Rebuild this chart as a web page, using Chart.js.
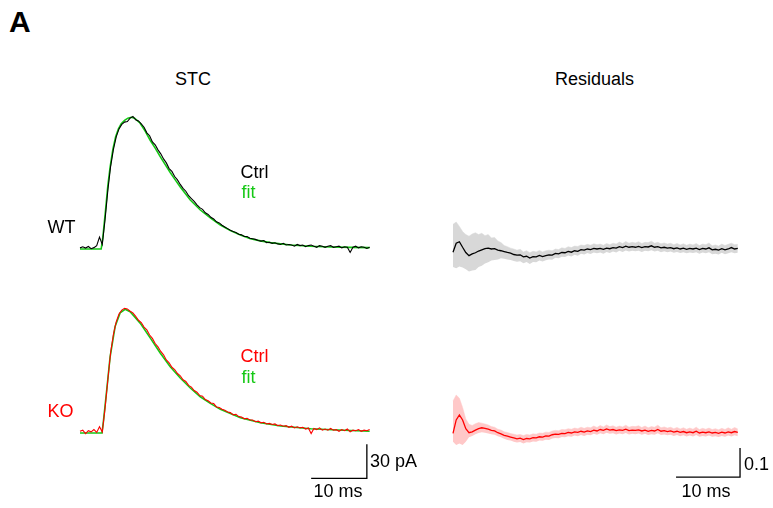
<!DOCTYPE html>
<html>
<head>
<meta charset="utf-8">
<script src="https://cdn.jsdelivr.net/npm/chart.js@4.4.1/dist/chart.umd.min.js"></script>
<style>
  html, body { margin: 0; padding: 0; background: #fff; }
  body { width: 773px; height: 508px; position: relative; overflow: hidden;
         font-family: "Liberation Sans", Arial, Helvetica, sans-serif; }
  canvas { position: absolute; }
  .t { position: absolute; font-size: 18px; line-height: 18px; white-space: nowrap; color: #000; }
</style>
</head>
<body>
<script>
// ---------------- DATA ----------------
// STC traces (pA) sampled every 0.5 ms
const stcTime = [0,0.5,1,1.5,2,2.5,3,3.5,4,4.5,5,5.5,6,6.5,7,7.5,8,8.5,9,9.5,10,10.5,11,11.5,12,12.5,13,13.5,14,14.5,15,15.5,16,16.5,17,17.5,18,18.5,19,19.5,20,20.5,21,21.5,22,22.5,23,23.5,24,24.5,25,25.5,26,26.5,27,27.5,28,28.5,29,29.5,30,30.5,31,31.5,32,32.5,33,33.5,34,34.5,35,35.5,36,36.5,37,37.5,38,38.5,39,39.5,40,40.5,41,41.5,42,42.5,43,43.5,44,44.5,45,45.5,46,46.5,47,47.5,48,48.5,49,49.5,50,50.5,51,51.5,52];
const wtCtrl = [1.0,2.0,0.8,2.2,0.3,1.2,3.0,10.5,4.0,26,
  52,73,88,99,106,110,112,112.5,115.5,117,
  114,113,110.5,107.5,102.5,100,94.5,92,87.5,84,
  79.5,76,71,68.5,64,61,57,53.5,51,47,
  44.5,42,39,36.5,35,32,30.5,28,26.5,24,
  23,21,19.5,18,16.5,15.5,14.5,13,12.5,11,
  11,9.5,9,8.5,7.5,7,7.5,5.5,6,5,
  5.5,4.5,4,5,3.5,4,3.5,2.5,4,3,
  3.5,2,3,3.5,2.5,1.5,3,2.5,1.5,2.5,
  3,1.5,2,2.5,1,2,1.5,-3,1.5,2.5,
  1,2,1.5,0.5,1.5];
const koCtrl = [1.5,2.5,-0.5,2,1,3,0.5,5.5,1,22,
  47,71,87,98,105,108.5,110,109.5,107.5,106,
  103,99.5,97.5,93.5,91,86.5,83.5,79,76,72,
  69,64.5,62,58,56,52.5,50.5,47,45.5,42,
  40.5,37.5,36,33,32.5,29.5,28.5,26.5,26,23,
  22.5,21,20,18.5,18,16,16.5,14.5,14,12.5,
  13,11.5,11.5,10,10.5,9,9.5,8,8.5,7.5,
  8,6.5,7,6,6.5,5,6,4.5,5.5,4.5,
  5,3.5,4.5,-0.5,4,3,4.5,2.5,3.5,2.5,
  4,2.5,3,1.5,3,2,3.5,1,2.5,2,
  3,1.5,2.5,2,3];

// Fits (pA)
const wtFitT = [0,3.8,4.1,4.6,5.0,5.4,5.9,6.4,6.9,7.4,8.0,8.6,9.2,9.8,10.8,11.7,12.6,13.5,14.4,15.3,16.2,17.1,18.0,19.8,21.6,23.4,25.2,27.0,28.8,30.6,32.4,34.2,37.8,41.4,45,48.6,52];
const wtFitV = [0,0,10,35,56,72,88,99,106,110.5,113.5,115.5,116.3,115.5,111,104,96,89,81.6,74.5,67.5,61,54.7,43.2,34.4,27.4,21.2,16.2,12.4,9.1,7.2,5.6,3.5,2.4,1.8,1.4,1.2];
const koFitT = [0,3.95,4.2,4.8,5.4,6.3,7.2,8.1,9.0,10.8,12.6,14.4,16.2,18.0,19.8,21.6,23.4,25.2,28.8,32.4,36.0,41.4,46.3,52];
const koFitV = [0,0,10,38,67,94,106,109.2,107,97,84,70.6,58.5,48.5,39.7,32,26.2,20.9,13.5,9.1,6.2,3.8,2.6,1.5];

// Residuals sampled every 0.5 ms
const resTime = [0,0.5,1,1.5,2,2.5,3,3.5,4,4.5,5,5.5,6,6.5,7,7.5,8,8.5,9,9.5,10,10.5,11,11.5,12,12.5,13,13.5,14,14.5,15,15.5,16,16.5,17,17.5,18,18.5,19,19.5,20,20.5,21,21.5,22,22.5,23,23.5,24,24.5,25,25.5,26,26.5,27,27.5,28,28.5,29,29.5,30,30.5,31,31.5,32,32.5,33,33.5,34,34.5,35,35.5,36,36.5,37,37.5,38,38.5,39,39.5,40,40.5,41,41.5,42,42.5,43,43.5,44,44.5];
const wtResMean = [-0.011,0.02,0.025,0.006,-0.012,-0.023,-0.017,-0.013,-0.007,-0.003,
  0.001,0.003,0.0,0.001,-0.004,-0.006,-0.009,-0.012,-0.014,-0.019,
  -0.021,-0.02,-0.027,-0.025,-0.031,-0.026,-0.027,-0.022,-0.026,-0.023,
  -0.02,-0.021,-0.015,-0.017,-0.012,-0.013,-0.008,-0.011,-0.006,-0.008,
  -0.002,-0.004,0.0,-0.002,0.002,0.0,0.002,-0.001,0.003,0.001,
  0.005,0.003,0.008,0.005,0.01,0.006,0.008,0.006,0.009,0.005,
  0.008,0.007,0.011,0.006,0.008,0.004,0.006,0.003,0.005,0.001,
  0.004,0.0,0.003,-0.001,0.002,0.0,0.003,-0.002,0.002,0.0,
  0.004,-0.003,-0.001,-0.004,0.001,-0.003,0.0,0.005,0.0,0.002];
const wtResUpper = [0.085,0.093,0.078,0.06,0.05,0.044,0.052,0.056,0.05,0.054,
  0.046,0.05,0.038,0.04,0.028,0.022,0.012,0.008,0.003,0.0,
  -0.004,-0.001,-0.01,-0.006,-0.013,-0.008,-0.01,-0.005,-0.01,-0.006,
  -0.004,-0.006,0.0,-0.002,0.004,0.002,0.008,0.005,0.01,0.009,
  0.014,0.012,0.016,0.013,0.018,0.015,0.017,0.013,0.019,0.015,
  0.02,0.017,0.024,0.019,0.026,0.02,0.023,0.021,0.025,0.019,
  0.023,0.022,0.027,0.02,0.023,0.018,0.021,0.017,0.02,0.015,
  0.019,0.014,0.018,0.013,0.017,0.014,0.019,0.012,0.017,0.015,
  0.021,0.011,0.014,0.01,0.017,0.012,0.016,0.02,0.015,0.016];
const wtResLower = [-0.062,-0.066,-0.06,-0.064,-0.07,-0.078,-0.074,-0.072,-0.062,-0.058,
  -0.05,-0.046,-0.04,-0.038,-0.036,-0.032,-0.034,-0.036,-0.038,-0.041,
  -0.044,-0.042,-0.049,-0.045,-0.052,-0.045,-0.046,-0.04,-0.043,-0.039,
  -0.036,-0.037,-0.03,-0.032,-0.027,-0.028,-0.022,-0.026,-0.02,-0.023,
  -0.016,-0.019,-0.014,-0.017,-0.012,-0.015,-0.012,-0.016,-0.01,-0.014,
  -0.009,-0.012,-0.006,-0.01,-0.005,-0.009,-0.006,-0.008,-0.006,-0.01,
  -0.006,-0.008,-0.004,-0.009,-0.006,-0.011,-0.008,-0.011,-0.009,-0.013,
  -0.01,-0.014,-0.011,-0.015,-0.012,-0.014,-0.011,-0.016,-0.012,-0.015,
  -0.011,-0.018,-0.016,-0.019,-0.013,-0.018,-0.015,-0.011,-0.015,-0.013];
const koResMean = [-0.001,0.045,0.062,0.045,0.015,0.001,0.004,0.01,0.015,0.018,
  0.016,0.013,0.009,0.007,0.001,-0.003,-0.008,-0.011,-0.014,-0.017,
  -0.02,-0.018,-0.023,-0.019,-0.02,-0.016,-0.017,-0.013,-0.014,-0.01,
  -0.011,-0.006,-0.004,-0.005,-0.001,-0.002,0.002,0.0,0.004,0.002,
  0.006,0.003,0.007,0.005,0.01,0.007,0.012,0.009,0.014,0.01,
  0.012,0.008,0.011,0.009,0.013,0.008,0.01,0.009,0.011,0.007,
  0.01,0.006,0.009,0.007,0.012,0.006,0.008,0.005,0.007,0.003,
  0.006,0.002,0.005,0.001,0.004,0.001,0.006,0.0,0.003,0.001,
  0.004,0.0,0.002,-0.001,0.003,0.0,0.004,0.001,0.005,0.002];
const koResUpper = [0.11,0.131,0.12,0.088,0.048,0.03,0.026,0.032,0.036,0.034,
  0.031,0.028,0.022,0.02,0.013,0.01,0.004,0.002,-0.002,-0.004,
  -0.007,-0.005,-0.009,-0.005,-0.007,-0.003,-0.004,0.0,-0.001,0.003,
  0.002,0.007,0.009,0.008,0.012,0.011,0.015,0.013,0.017,0.015,
  0.02,0.016,0.02,0.018,0.024,0.019,0.026,0.021,0.028,0.022,
  0.025,0.02,0.024,0.021,0.027,0.02,0.023,0.022,0.025,0.019,
  0.024,0.018,0.022,0.02,0.027,0.018,0.021,0.017,0.02,0.015,
  0.019,0.014,0.018,0.013,0.017,0.013,0.02,0.012,0.016,0.013,
  0.017,0.012,0.015,0.011,0.016,0.012,0.018,0.013,0.019,0.014];
const koResLower = [-0.03,-0.041,-0.036,-0.041,-0.03,-0.015,-0.01,-0.004,0.0,0.003,
  0.001,-0.002,-0.004,-0.006,-0.011,-0.015,-0.02,-0.024,-0.026,-0.03,
  -0.033,-0.031,-0.036,-0.032,-0.033,-0.029,-0.03,-0.026,-0.027,-0.023,
  -0.024,-0.019,-0.017,-0.018,-0.014,-0.015,-0.011,-0.013,-0.009,-0.011,
  -0.007,-0.01,-0.006,-0.008,-0.003,-0.006,-0.001,-0.004,0.001,-0.003,
  -0.001,-0.005,-0.002,-0.004,0.0,-0.005,-0.003,-0.004,-0.002,-0.006,
  -0.003,-0.007,-0.004,-0.006,-0.001,-0.007,-0.005,-0.008,-0.006,-0.01,
  -0.007,-0.011,-0.008,-0.012,-0.009,-0.012,-0.007,-0.013,-0.01,-0.012,
  -0.009,-0.013,-0.011,-0.014,-0.01,-0.013,-0.009,-0.012,-0.008,-0.011];

// Scale bars
const stcBar = { t0: 41.5, dt: 10, v0: -40, dv: 30, xLabel: "10 ms", yLabel: "30 pA" };
const resBar = { t0: 34.85, dt: 10, v0: -0.152, dv: 0.1, xLabel: "10 ms", yLabel: "0.1" };

// ---------------- LAYOUT ----------------
const GREEN = "rgb(20,200,20)";
const RED = "rgb(255,0,0)";
const STC_X0 = 80, STC_PXMS = 5.57, STC_PXPA = 1.133;
const RES_X0 = 453, RES_PXMS = 6.4, RES_PXU = 290;
const WT_Y0 = 249, KO_Y0 = 433;

function pts(xs, ys) { return xs.map((x, i) => ({ x: x, y: ys[i] })); }

function barPlugin(bar) {
  return {
    id: 'scalebar',
    afterDatasetsDraw(chart) {
      const xs = chart.scales.x, ys = chart.scales.y, ctx = chart.ctx;
      const xa = xs.getPixelForValue(bar.t0), xb = xs.getPixelForValue(bar.t0 + bar.dt);
      const ya = ys.getPixelForValue(bar.v0), yb = ys.getPixelForValue(bar.v0 + bar.dv);
      ctx.save();
      ctx.strokeStyle = '#000';
      ctx.lineWidth = 1.3;
      ctx.beginPath();
      ctx.moveTo(xa, ya); ctx.lineTo(xb, ya); ctx.lineTo(xb, yb);
      ctx.stroke();
      ctx.restore();
    }
  };
}

function makeChart(box, x0, pxx, y0, pxy, datasets, plugins) {
  const c = document.createElement('canvas');
  c.width = box.w; c.height = box.h;
  c.style.left = box.l + 'px'; c.style.top = box.t + 'px';
  c.style.width = box.w + 'px'; c.style.height = box.h + 'px';
  document.body.appendChild(c);
  return new Chart(c, {
    type: 'line',
    data: { datasets: datasets },
    options: {
      responsive: false, animation: false, events: [],
      devicePixelRatio: 1,
      layout: { padding: 0 },
      elements: { point: { radius: 0 }, line: { tension: 0 } },
      plugins: { legend: { display: false }, tooltip: { enabled: false }, title: { display: false } },
      scales: {
        x: { type: 'linear', display: false,
             min: (box.l - x0) / pxx, max: (box.l + box.w - x0) / pxx },
        y: { type: 'linear', display: false,
             min: (y0 - (box.t + box.h)) / pxy, max: (y0 - box.t) / pxy }
      }
    },
    plugins: plugins || []
  });
}

function line(data, color, width) {
  return { data: data, borderColor: color, borderWidth: width, fill: false, clip: false, pointRadius: 0 };
}

// Datasets listed first are drawn on top.
// STC WT
makeChart({ l: 60, t: 95, w: 330, h: 170 }, STC_X0, STC_PXMS, WT_Y0, STC_PXPA, [
  line(pts(stcTime, wtCtrl), '#000', 1.1),
  line(pts(wtFitT, wtFitV), GREEN, 1.6)
]);
// STC KO
makeChart({ l: 60, t: 285, w: 330, h: 220 }, STC_X0, STC_PXMS, KO_Y0, STC_PXPA, [
  line(pts(stcTime, koCtrl), RED, 1.1),
  line(pts(koFitT, koFitV), GREEN, 1.6)
], [barPlugin(stcBar)]);

function band(lo, up, mean, bandColor, lineColor) {
  return [
    line(pts(resTime, mean), lineColor, 1.3),
    { data: pts(resTime, lo), borderWidth: 0, borderColor: 'rgba(0,0,0,0)', fill: false, pointRadius: 0, clip: false },
    { data: pts(resTime, up), borderWidth: 0.5, borderColor: bandColor, backgroundColor: bandColor, fill: 1, pointRadius: 0, clip: false }
  ];
}
// Residuals WT
makeChart({ l: 440, t: 200, w: 320, h: 90 }, RES_X0, RES_PXMS, WT_Y0, RES_PXU,
  band(wtResLower, wtResUpper, wtResMean, 'rgb(216,216,216)', '#000'));
// Residuals KO
makeChart({ l: 440, t: 375, w: 333, h: 130 }, RES_X0, RES_PXMS, KO_Y0, RES_PXU,
  band(koResLower, koResUpper, koResMean, 'rgb(255,200,200)', RED), [barPlugin(resBar)]);

// ---------------- TEXT ----------------
function txt(s, left, baseline, opts) {
  opts = opts || {};
  const fs = opts.size || 18;
  const d = document.createElement('div');
  d.className = 't';
  d.textContent = s;
  d.style.fontSize = fs + 'px';
  d.style.lineHeight = fs + 'px';
  d.style.left = left + 'px';
  d.style.top = (baseline - 0.8465 * fs) + 'px';
  if (opts.color) d.style.color = opts.color;
  if (opts.bold) d.style.fontWeight = 'bold';
  document.body.appendChild(d);
}
txt('A', 9, 32, { size: 30, bold: true });
txt('STC', 175, 85);
txt('Residuals', 555, 85);
txt('WT', 47.5, 233);
txt('KO', 47.5, 417, { color: RED });
txt('Ctrl', 240.5, 178);
txt('fit', 241.5, 198, { color: GREEN });
txt('Ctrl', 240.5, 362, { color: RED });
txt('fit', 241.5, 383, { color: GREEN });
txt(stcBar.yLabel, 370, 467);
txt(stcBar.xLabel, 313.5, 497);
txt(resBar.yLabel, 744, 470);
txt(resBar.xLabel, 681.5, 497);
</script>
</body>
</html>
